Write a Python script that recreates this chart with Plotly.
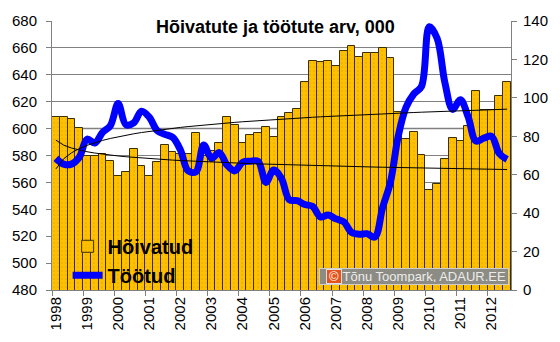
import numpy as np
import plotly.graph_objects as go

# Quarterly series, 1998 Q1 .. 2012 Q3 (thousands)
years = [str(y) for y in range(1998, 2013)]
hoivatud = [609, 608.5, 607, 600.5, 579.5, 580, 581, 576, 565, 568, 584.5, 572,
            564.5, 575.5, 587.5, 582.5, 581, 581, 597, 580, 583, 589, 608.5, 602.5,
            589.5, 595, 596.5, 601, 594, 608.5, 611.5, 614.5, 635, 650, 649.5, 650.5,
            646.5, 658, 661.5, 653.5, 656, 656, 660, 652.5, 612, 592.5, 597.5, 580.5,
            554, 558.5, 577.5, 593, 591, 602, 628, 613.5, 614, 624, 634.5]
tootud = [68.5, 65.5, 65.5, 69, 78.5, 76.5, 82, 85.5, 97, 86, 87, 93,
          90, 83, 81, 79.5, 73, 62, 61.5, 75.5, 68.5, 71.5, 65, 62,
          66.5, 67, 67, 56, 62.5, 58, 47, 46.5, 44.5, 43.5, 38, 39,
          37, 35.5, 30, 29, 29.3, 27.5, 43, 56, 80, 95, 102, 106,
          137, 131, 108, 94, 99, 90, 77.5, 79, 80, 71, 68]

# logarithmic trend lines y = a + b*ln(t), t = 1..n
trend_h_coef = (570.0, 10.9)    # Hõivatud
trend_t_coef = (78.0, -3.75)    # Töötud

n = len(hoivatud)
q = np.arange(n)
t = np.arange(1, n + 1)
trend_h = trend_h_coef[0] + trend_h_coef[1] * np.log(t)
trend_t = trend_t_coef[0] + trend_t_coef[1] * np.log(t)

FONT = "Liberation Sans, Arial, sans-serif"

fig = go.Figure()
fig.add_trace(go.Bar(
    x=q, y=hoivatud, name="Hõivatud", width=1, yaxis="y",
    marker=dict(color="#FFC000", line=dict(color="#3a3000", width=1),
                pattern=dict(shape=".", fgcolor="#c08a00", bgcolor="#FFC000",
                             size=4, solidity=0.12)),
))
fig.add_trace(go.Scatter(
    x=q, y=tootud, name="Töötud", yaxis="y2", mode="lines",
    line=dict(color="#0000FF", width=7, shape="spline", smoothing=1.0),
))
fig.add_trace(go.Scatter(
    x=q, y=trend_t, yaxis="y2", mode="lines", showlegend=False,
    line=dict(color="black", width=1),
))
fig.add_trace(go.Scatter(
    x=q, y=trend_h, yaxis="y3", mode="lines", showlegend=False,
    line=dict(color="black", width=1),
))

fig.update_layout(
    width=560, height=342,
    margin=dict(l=45, r=42, t=14, b=43),
    paper_bgcolor="white", plot_bgcolor="white",
    font=dict(family=FONT, size=15, color="black"),
    bargap=0,
    showlegend=True,
    legend=dict(x=0.034, y=0.235, xanchor="left", yanchor="top",
                bgcolor="rgba(0,0,0,0)", font=dict(size=20, weight="bold"),
                itemwidth=30, tracegroupgap=0),
    xaxis=dict(range=[-0.5, n - 0.5], tickmode="array",
               tickvals=list(range(0, n, 4)), ticktext=years,
               tickangle=-90, ticks="", showgrid=False,
               showline=True, linecolor="#808080",
               minor=dict(tickmode="array",
                          tickvals=[v - 0.5 for v in range(0, n + 1, 4)],
                          ticks="outside", ticklen=5, tickcolor="#808080")),
    yaxis=dict(range=[480, 680], dtick=20, showgrid=True, gridcolor="#808080",
               gridwidth=1, showline=True, linecolor="#808080",
               ticks="outside", ticklen=5, tickcolor="#808080",
               ticklabelstandoff=6, zeroline=False),
    yaxis2=dict(range=[0, 140], dtick=20, overlaying="y", side="right",
                showgrid=False, showline=True, linecolor="#808080",
                ticks="outside", ticklen=5, tickcolor="#808080",
                ticklabelstandoff=3, zeroline=False),
    yaxis3=dict(range=[480, 680], overlaying="y", visible=False),
    shapes=[dict(type="line", xref="paper", yref="y", x0=0, x1=1, y0=600, y1=600,
                 line=dict(color="#c0c0c0", width=2), layer="below")],
    annotations=[
        dict(text="<b>Hõivatute ja töötute arv, 000</b>", xref="paper", yref="paper",
             x=0.486, y=0.979, xanchor="center", yanchor="middle", showarrow=False,
             font=dict(size=18, color="black"), bgcolor="white", borderpad=3),
        dict(text="Tõnu Toompark, ADAUR.EE", xref="paper", yref="paper",
             x=0.995, y=0.049, xanchor="right", yanchor="middle", showarrow=False,
             width=184, height=11, align="right", borderpad=2, borderwidth=1,
             bordercolor="#cfcfcf", bgcolor="#8c8c84",
             font=dict(size=13, color="#ececec")),
        dict(text="©", xref="paper", yref="paper",
             x=0.598, y=0.049, xanchor="left", yanchor="middle", showarrow=False,
             width=12, height=11, borderpad=1, borderwidth=1,
             bordercolor="#e0e0e0", bgcolor="#e5531a",
             font=dict(size=13, color="white")),
    ],
)

fig.write_html("out.html")
